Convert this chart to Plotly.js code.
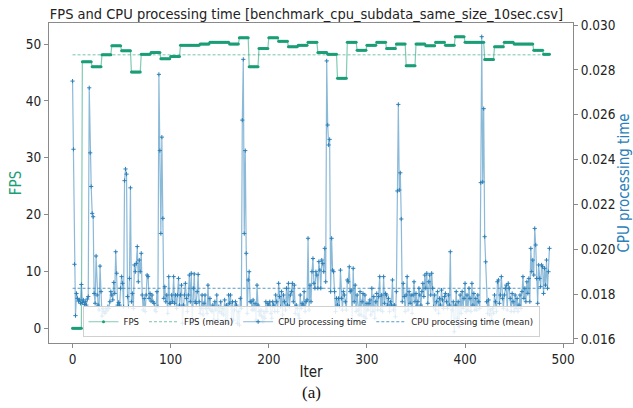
<!DOCTYPE html>
<html>
<head>
<meta charset="utf-8">
<script src="https://cdn.plot.ly/plotly-3.0.1.min.js"></script>
<style>
  html, body { margin: 0; padding: 0; background: #ffffff; }
  #chart { width: 633px; height: 408px; }
</style>
</head>
<body>
<div id="chart"></div>
<script>
// FPS level for each block of 10 iterations (iters 0-9, 10-19, ...)
const fpsSteps = [
  0, 46.9, 46.0, 48.1, 49.7, 48.8, 45.1, 48.2, 48.5, 47.4,
  47.8, 49.8, 49.8, 50.0, 50.3, 50.3, 50.0, 51.1, 46.0, 49.2,
  51.1, 50.5, 49.5, 49.8, 50.3, 48.5, 48.2, 44.0, 50.3, 48.9,
  49.8, 50.3, 49.2, 50.0, 46.2, 50.0, 49.7, 50.3, 49.8, 51.3,
  50.3, 50.3, 47.3, 49.5, 50.3, 50.0, 50.0, 48.9, 48.2
];
const fpsBlock = 10;
const fpsMean = 48.1;

// CPU processing time per iteration (seconds)
const cpuTime = [
  0.02750,0.02446,0.01933,0.01704,0.01803,0.01781,0.01769,0.01774,0.01759,0.01843,
  0.01763,0.01774,0.01754,0.01766,0.01751,0.01778,0.01789,0.02720,0.02430,0.02280,
  0.02160,0.02145,0.01803,0.01759,0.01970,0.01796,0.01751,0.01729,0.01925,0.01811,
  0.01702,0.01736,0.01722,0.01714,0.01736,0.01725,0.01744,0.01736,0.01766,0.01811,
  0.01796,0.01774,0.01852,0.01803,0.01989,0.01893,0.01751,0.01763,0.01751,0.01826,
  0.01878,0.01848,0.01744,0.02306,0.02358,0.02335,0.01789,0.01744,0.01870,0.02274,
  0.01766,0.01803,0.01736,0.01930,0.01900,0.01937,0.02012,0.01855,0.01952,0.01900,
  0.01982,0.01796,0.01729,0.01781,0.01722,0.01796,0.01885,0.01878,0.01781,0.01803,
  0.01769,0.01796,0.01766,0.01759,0.01729,0.01722,0.01811,0.01744,0.02780,0.02440,
  0.02070,0.02500,0.02138,0.01781,0.01833,0.01766,0.01796,0.01714,0.01878,0.01759,
  0.01759,0.01796,0.01766,0.01878,0.01759,0.01796,0.01736,0.01796,0.01870,0.01751,
  0.01796,0.01840,0.01670,0.01751,0.01796,0.01848,0.01781,0.01722,0.01796,0.01885,
  0.01766,0.01893,0.01670,0.01826,0.01890,0.01766,0.01759,0.01811,0.01888,0.01766,
  0.01714,0.01736,0.01796,0.01707,0.01759,0.01796,0.01736,0.01714,0.01840,0.01736,
  0.01781,0.01729,0.01722,0.01751,0.01684,0.01766,0.01729,0.01796,0.01684,0.01744,
  0.01722,0.01766,0.01714,0.01736,0.01707,0.01774,0.01684,0.01751,0.01670,0.01796,
  0.01759,0.01796,0.01692,0.01766,0.01684,0.01729,0.01766,0.01751,0.01670,0.01722,
  0.01662,0.01781,0.01736,0.02576,0.02847,0.02070,0.02440,0.01982,0.01714,0.01863,
  0.01900,0.01766,0.01766,0.01729,0.01774,0.01729,0.01759,0.01684,0.01840,0.01751,
  0.01722,0.01707,0.01729,0.01699,0.01677,0.01722,0.01692,0.01766,0.01722,0.01759,
  0.01751,0.01766,0.01714,0.01692,0.01766,0.01751,0.01722,0.01796,0.01766,0.01722,
  0.01848,0.01789,0.01744,0.01811,0.01707,0.01796,0.01766,0.01729,0.01826,0.01751,
  0.01848,0.01744,0.01796,0.01811,0.01848,0.01766,0.01840,0.01714,0.01751,0.01736,
  0.01707,0.01692,0.01796,0.01736,0.01759,0.01751,0.01811,0.01722,0.01766,0.01774,
  0.02049,0.01729,0.01840,0.01766,0.01900,0.01959,0.01848,0.01826,0.01900,0.01885,
  0.01826,0.01945,0.01907,0.01826,0.01952,0.01937,0.01900,0.02004,0.01855,0.02840,
  0.02554,0.02465,0.02490,0.01811,0.02049,0.01907,0.01900,0.01811,0.01722,0.01781,
  0.01751,0.01781,0.01744,0.01907,0.01781,0.01729,0.01811,0.01796,0.01766,0.01729,
  0.01863,0.01855,0.01922,0.01811,0.01818,0.01684,0.01915,0.01766,0.01840,0.01722,
  0.01796,0.01729,0.01707,0.01811,0.01707,0.01766,0.01803,0.01699,0.01796,0.01692,
  0.01759,0.01729,0.01759,0.01774,0.01707,0.01826,0.01722,0.01789,0.01692,0.01766,
  0.01803,0.01729,0.01789,0.01878,0.01729,0.01796,0.01722,0.01878,0.01759,0.01803,
  0.01796,0.01751,0.01781,0.01722,0.01766,0.01751,0.01863,0.01729,0.01751,0.01699,
  0.01811,0.02260,0.02646,0.02264,0.02341,0.02135,0.01766,0.01848,0.01789,0.01722,
  0.01796,0.01878,0.01729,0.01811,0.01759,0.01796,0.01714,0.01796,0.01855,0.01766,
  0.01803,0.01751,0.01766,0.01826,0.01796,0.01751,0.01811,0.01848,0.01789,0.01885,
  0.01826,0.01893,0.01759,0.01855,0.01885,0.01796,0.01893,0.01826,0.01744,0.01796,
  0.01729,0.01766,0.01811,0.01714,0.01781,0.01751,0.01818,0.01774,0.01736,0.01789,
  0.01803,0.01766,0.01736,0.01796,0.01751,0.01989,0.01670,0.01729,0.01766,0.01632,
  0.01751,0.01811,0.01692,0.01766,0.01655,0.01796,0.01714,0.01811,0.01736,0.01781,
  0.01848,0.01722,0.01796,0.01729,0.01826,0.01781,0.01722,0.01848,0.01751,0.01803,
  0.01729,0.01781,0.01729,0.01796,0.01766,0.01736,0.02297,0.02948,0.02300,0.02627,
  0.02056,0.01944,0.01766,0.01714,0.01774,0.01707,0.01729,0.01684,0.01736,0.01714,
  0.01796,0.01766,0.01722,0.01855,0.01863,0.01759,0.01796,0.01878,0.01781,0.01736,
  0.01796,0.01826,0.01840,0.01729,0.01848,0.01826,0.01781,0.01722,0.01803,0.01766,
  0.01722,0.01796,0.01736,0.01781,0.01722,0.01751,0.01796,0.01736,0.01811,0.01878,
  0.01781,0.01826,0.01766,0.01855,0.01803,0.01870,0.01766,0.02004,0.01900,0.01952,
  0.01885,0.02093,0.02019,0.01870,0.01759,0.01930,0.01870,0.01833,0.01930,0.01922,
  0.01803,0.01915,0.01840,0.01952,0.01826,0.01900,0.02004
];
const cpuMean = 0.01826;

const xTicks = [0, 100, 200, 300, 400, 500];
const fpsTicks = [0, 10, 20, 30, 40, 50];
const cpuTicks = [0.016, 0.018, 0.020, 0.022, 0.024, 0.026, 0.028, 0.030];

const iters = cpuTime.map((_, i) => i);
const fps = iters.map(i => fpsSteps[Math.floor(i / fpsBlock)]);
const lastIter = iters[iters.length - 1];

const green = '#1b9e77';
const blue = '#2c7fb8';
const font = 'DejaVu Sans Condensed, DejaVu Sans, sans-serif';

const traces = [
  {
    x: iters, y: fps, type: 'scatter', mode: 'lines+markers', name: 'FPS',
    line: { color: 'rgba(27,158,119,0.55)', width: 1.2 },
    marker: { color: green, size: 3, symbol: 'circle' },
    yaxis: 'y'
  },
  {
    x: [0, lastIter], y: [fpsMean, fpsMean], type: 'scatter', mode: 'lines', name: 'FPS (mean)',
    line: { color: 'rgba(27,158,119,0.6)', width: 1, dash: '3px,2px' },
    yaxis: 'y'
  },
  {
    x: iters, y: cpuTime, type: 'scatter', mode: 'lines+markers', name: 'CPU processing time',
    line: { color: 'rgba(44,127,184,0.55)', width: 1.2 },
    marker: { color: blue, size: 3, symbol: 'cross-thin', line: { color: blue, width: 1 } },
    yaxis: 'y2'
  },
  {
    x: [0, lastIter], y: [cpuMean, cpuMean], type: 'scatter', mode: 'lines', name: 'CPU processing time (mean)',
    line: { color: 'rgba(44,127,184,0.8)', width: 1, dash: '3px,2px' },
    yaxis: 'y2'
  }
];

const axisCommon = {
  showgrid: false, zeroline: false, showline: true, linecolor: '#8a8a8a', linewidth: 1,
  ticks: 'outside', ticklen: 4, tickcolor: '#8a8a8a', tickwidth: 1,
  tickfont: { family: font, size: 13.5, color: '#222' }
};

const layout = {
  width: 633, height: 408,
  margin: { l: 49, r: 60, t: 23, b: 65 },
  paper_bgcolor: '#ffffff', plot_bgcolor: '#ffffff',
  font: { family: font, color: '#222' },
  showlegend: true,
  title: {
    text: 'FPS and CPU processing time [benchmark_cpu_subdata_same_size_10sec.csv]',
    font: { family: font, size: 14.5, color: '#222' },
    x: 0.4913, xanchor: 'center', xref: 'paper', y: 0.966, yanchor: 'middle'
  },
  xaxis: Object.assign({}, axisCommon, {
    range: [-24, 510], tickvals: xTicks, mirror: true,
    title: { text: 'Iter', font: { family: font, size: 15, color: '#222' }, standoff: 0 }
  }),
  yaxis: Object.assign({}, axisCommon, {
    range: [-2.6, 53.7], tickvals: fpsTicks,
    title: { text: 'FPS', font: { family: font, size: 15, color: green }, standoff: 0 }
  }),
  yaxis2: Object.assign({}, axisCommon, {
    overlaying: 'y', side: 'right', anchor: 'x',
    range: [0.01582, 0.03009], tickvals: cpuTicks, tickformat: '.3f',
    title: { text: 'CPU processing time', font: { family: font, size: 15, color: blue }, standoff: 2 }
  }),
  legend: {
    orientation: 'h', x: 0.5, xanchor: 'center', y: 0.018, yanchor: 'bottom',
    bgcolor: 'rgba(255,255,255,0.85)', bordercolor: '#d0d0d0', borderwidth: 1,
    font: { family: font, size: 9.5, color: '#222' },
    itemwidth: 30, tracegroupgap: 0
  },
  annotations: [
    {
      text: '(a)', xref: 'paper', yref: 'paper', x: 0.5, y: -0.12,
      xanchor: 'center', yanchor: 'top', showarrow: false,
      font: { family: 'Liberation Serif, Times New Roman, serif', size: 17, color: '#111' }
    }
  ]
};

Plotly.newPlot('chart', traces, layout, { displayModeBar: false, staticPlot: true });
</script>
</body>
</html>
